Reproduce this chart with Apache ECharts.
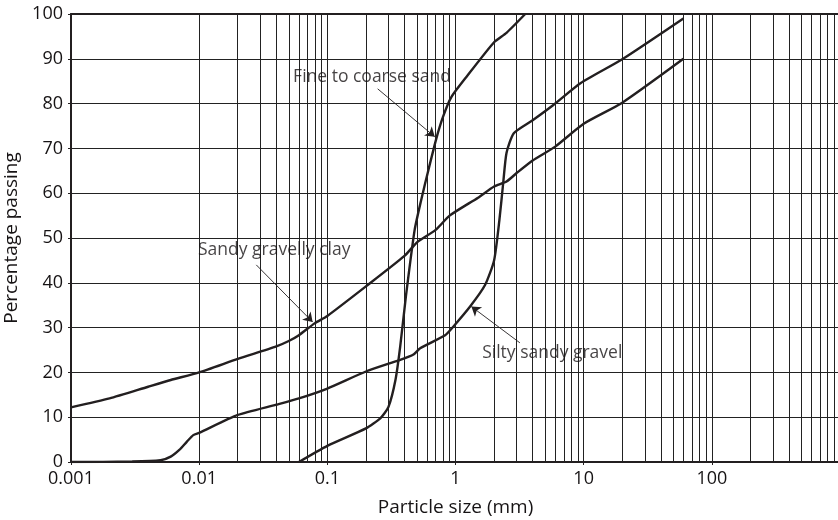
<!DOCTYPE html>
<html>
<head>
<meta charset="utf-8">
<title>Particle size distribution</title>
<script src="https://cdn.jsdelivr.net/npm/echarts@6/dist/echarts.min.js"></script>
<style>
  html, body { margin: 0; padding: 0; background: #fff; }
  #chartsDom { width: 838px; height: 520px; }
</style>
</head>
<body>
<div id="chartsDom"></div>
<script>
// grading curves (x = particle size mm, y = % passing)
const clayX = [0.001, 0.002, 0.004, 0.006, 0.01, 0.02, 0.04, 0.05, 0.06, 0.08, 0.1, 0.2, 0.4, 0.5, 0.7, 0.9, 1.5, 2, 2.5, 3, 4, 6, 10, 20, 60];
const clayY = [12.2, 14.2, 16.8, 18.3, 20, 23, 25.8, 27, 28.3, 31, 32.6, 39.2, 46, 49, 51.8, 55, 59, 61.5, 62.6, 64.5, 67.3, 70.4, 75.5, 80.2, 90];

const sandX = [0.06, 0.1, 0.2, 0.26, 0.3, 0.34, 0.37, 0.41, 0.48, 0.54, 0.61, 0.71, 0.8, 0.93, 1.22, 2.0, 2.5, 3.5];
const sandY = [0, 3.6, 7.5, 9.8, 12.3, 18.3, 25.7, 36.9, 51.8, 58.5, 64.8, 72.3, 77.1, 81.5, 86, 93.7, 95.8, 100];

const gravelX = [0.001, 0.003, 0.005, 0.006, 0.007, 0.008, 0.009, 0.01, 0.02, 0.04, 0.06, 0.1, 0.2, 0.37, 0.47, 0.53, 0.83, 0.96, 1.3, 1.7, 2.0, 2.2, 2.36, 2.5, 2.85, 4, 5.8, 9.5, 20, 60];
const gravelY = [0, 0.1, 0.4, 1.2, 2.7, 4.5, 6, 6.5, 10.5, 12.8, 14.2, 16.4, 20.2, 22.8, 24, 25.4, 28.3, 30.2, 34.7, 39.5, 45, 54, 62.5, 69, 73.4, 76.3, 79.7, 84.6, 89.9, 99];

// labels with leader arrows
const noteText = ["Fine to coarse sand", "Sandy gravelly clay", "Silty sandy gravel"];
const noteAt = [[0.0536, 85.9], [0.0097, 47.3], [1.6, 24.3]];
const arrowFrom = [[0.247, 83.3], [0.0279, 44], [3.18, 26.6]];
const arrowTo = [[0.689, 72.6], [0.0768, 31.25], [1.33, 34.7]];

const decades = [0.001, 0.01, 0.1, 1, 10, 100];
const yTicks = [0, 10, 20, 30, 40, 50, 60, 70, 80, 90, 100];

// 2..9 lines inside every decade
let minorX = [];
decades.forEach(d => {
  for (let k = 2; k <= 9; k++) minorX.push(+(k * d).toPrecision(3));
});

const pairs = (xs, ys) => xs.map((x, i) => [x, ys[i]]);
const ink = "#231f20";
const textInk = "#161314";
const font = "Open Sans";

let myChart = echarts.init(document.getElementById("chartsDom"));

let curve = data => ({
  type: "line",
  data: data,
  smooth: 0.2,
  showSymbol: false,
  silent: true,
  z: 5,
  lineStyle: { color: ink, width: 2.4 }
});

let option = {
  animation: false,
  textStyle: { fontFamily: font },
  grid: { left: 71, right: -2, top: 14, bottom: 58, outerBoundsMode: "none", containLabel: false },
  xAxis: [
    {
      type: "log",
      logBase: 10,
      min: 0.001,
      max: 1000,
      name: "Particle size (mm)",
      nameLocation: "middle",
      nameGap: 36,
      nameTextStyle: { fontSize: 19, color: textInk, fontFamily: font },
      axisLine: { lineStyle: { color: ink, width: 2 } },
      axisTick: { show: true, length: 3, lineStyle: { color: ink } },
      axisLabel: {
        fontSize: 18,
        color: textInk,
        margin: 8,
        formatter: v => (decades.indexOf(+v.toPrecision(3)) >= 0 ? String(+v.toPrecision(3)) : "")
      },
      splitLine: { show: true, lineStyle: { color: "#222", width: 1 } }
    },
    {
      type: "log",
      position: "top",
      min: 0.001,
      max: 1000,
      axisLine: { lineStyle: { color: ink, width: 2 } },
      axisTick: { show: false },
      axisLabel: { show: false },
      splitLine: { show: false }
    }
  ],
  yAxis: {
    type: "value",
    min: yTicks[0],
    max: yTicks[yTicks.length - 1],
    interval: 10,
    name: "Percentage passing",
    nameLocation: "middle",
    nameGap: 44,
    nameTextStyle: { fontSize: 19, color: textInk, fontFamily: font },
    axisLine: { show: true, lineStyle: { color: ink, width: 2 } },
    axisTick: { show: true, length: 3, lineStyle: { color: ink } },
    axisLabel: { fontSize: 18, color: textInk, margin: 8 },
    splitLine: { show: true, lineStyle: { color: "#222", width: 1 } }
  },
  series: [
    {
      // minor log grid
      type: "line",
      data: [],
      silent: true,
      z: 1,
      markLine: {
        silent: true,
        symbol: ["none", "none"],
        label: { show: false },
        lineStyle: { color: "#222", width: 1, type: "solid" },
        data: minorX.map(v => ({ xAxis: v }))
      }
    },
    curve(pairs(clayX, clayY)),
    curve(pairs(sandX, sandY)),
    curve(pairs(gravelX, gravelY)),
    {
      type: "scatter",
      data: noteAt,
      symbolSize: 1,
      silent: true,
      z: 6,
      itemStyle: { color: "rgba(0,0,0,0)" },
      label: {
        show: true,
        position: "right",
        distance: 0,
        fontSize: 17.5,
        color: textInk,
        fontFamily: font,
        formatter: p => noteText[p.dataIndex]
      },
      markLine: {
        silent: true,
        symbol: ["none", "arrow"],
        symbolSize: 9,
        label: { show: false },
        lineStyle: { color: ink, width: 0.9, type: "solid" },
        data: arrowFrom.map((a, i) => [{ coord: a }, { coord: arrowTo[i] }])
      }
    }
  ]
};
option && myChart.setOption(option);
</script>
</body>
</html>
